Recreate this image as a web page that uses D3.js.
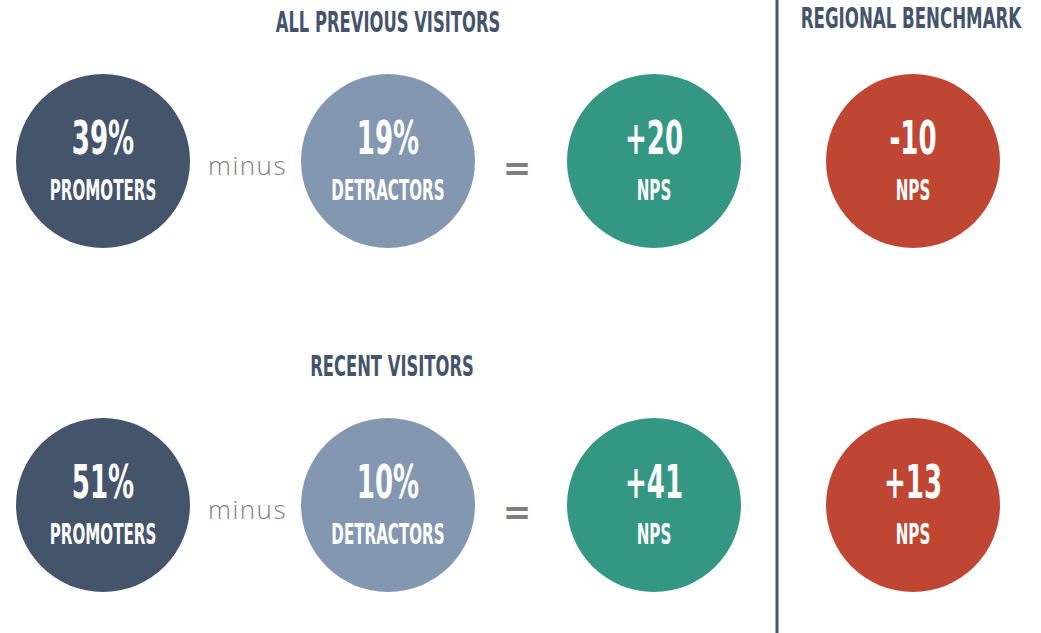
<!DOCTYPE html>
<html>
<head>
<meta charset="utf-8">
<script src="https://cdn.jsdelivr.net/npm/d3@7"></script>
<style>
  body { margin: 0; background: #fff; }
  svg { display: block; }
</style>
</head>
<body>
<div class="chart"></div>
<script>
const groups = ['ALL PREVIOUS VISITORS', 'RECENT VISITORS'];
const promoters = [39, 51];
const detractors = [19, 10];
const benchmark = [-10, 13];
const columns = ['promoters', 'detractors', 'nps', 'benchmark'];

const width = 1041;
const height = 633;
const radius = 87;
const headFont = '"Liberation Sans Narrow", "DejaVu Sans Condensed", sans-serif';

const colors = d3.scaleOrdinal()
  .domain(columns)
  .range(['#44546b', '#8497b0', '#339783', '#c04634']);

const x = d3.scaleOrdinal()
  .domain(columns)
  .range([103, 388, 654, 913]);

const y = d3.scalePoint()
  .domain(groups)
  .range([161, 505]);

const fmtSigned = v => (v > 0 ? '+' : '') + v;

const rows = groups.map((g, i) => ({
  group: g,
  cells: [
    { col: 'promoters', big: promoters[i] + '%', small: 'PROMOTERS' },
    { col: 'detractors', big: detractors[i] + '%', small: 'DETRACTORS' },
    { col: 'nps', big: fmtSigned(promoters[i] - detractors[i]), small: 'NPS' },
    { col: 'benchmark', big: fmtSigned(benchmark[i]), small: 'NPS' }
  ]
}));

const svg = d3.select('.chart').append('svg')
  .attr('width', width)
  .attr('height', height);

// divider
svg.append('rect')
  .attr('x', 775.5)
  .attr('y', 0)
  .attr('width', 3)
  .attr('height', height)
  .attr('fill', '#44546b');

// condensed text helper: squeeze horizontally around its anchor
function condensed(sel, cx, cy, size, sx) {
  sel.attr('transform', `translate(${cx},${cy}) scale(${sx},1)`)
    .attr('text-anchor', 'middle')
    .style('font-family', headFont)
    .style('font-weight', 'bold')
    .style('font-size', size + 'px');
}

svg.append('text')
  .text(groups[0])
  .attr('fill', '#44546b')
  .call(condensed, 388, 32, 28, 0.65);

svg.append('text')
  .text(groups[1])
  .attr('fill', '#44546b')
  .call(condensed, 392, 376, 28, 0.65);

svg.append('text')
  .text('REGIONAL BENCHMARK')
  .attr('fill', '#44546b')
  .call(condensed, 911, 28, 28, 0.66);

const row = svg.selectAll('g.row')
  .data(rows)
  .enter()
  .append('g')
  .attr('class', 'row')
  .attr('transform', d => `translate(0,${y(d.group)})`);

const cell = row.selectAll('g.cell')
  .data(d => d.cells)
  .enter()
  .append('g')
  .attr('class', 'cell');

cell.append('circle')
  .attr('cx', d => x(d.col))
  .attr('cy', 0)
  .attr('r', radius)
  .attr('fill', d => colors(d.col));

cell.append('text')
  .text(d => d.big)
  .attr('fill', '#fff')
  .each(function (d) {
    d3.select(this).call(condensed, x(d.col), -7, 46, 0.63);
  });

cell.append('text')
  .text(d => d.small)
  .attr('fill', '#fff')
  .each(function (d) {
    d3.select(this).call(condensed, x(d.col), 39, 28, 0.6);
  });

// operators between circles
row.append('text')
  .text('minus')
  .attr('x', (x('promoters') + x('detractors')) / 2 + 2)
  .attr('y', 14)
  .attr('text-anchor', 'middle')
  .attr('fill', '#7f7f7f')
  .style('font-family', '"Open Sans", sans-serif')
  .style('font-weight', 300)
  .style('font-size', '26px')
  .style('letter-spacing', '1.5px');

row.append('text')
  .text('=')
  .attr('x', (x('detractors') + x('nps')) / 2 - 4)
  .attr('y', 19)
  .attr('text-anchor', 'middle')
  .attr('fill', '#7f7f7f')
  .style('font-family', '"DejaVu Sans", sans-serif')
  .style('font-weight', 'bold')
  .style('font-size', '34px');
</script>
</body>
</html>
